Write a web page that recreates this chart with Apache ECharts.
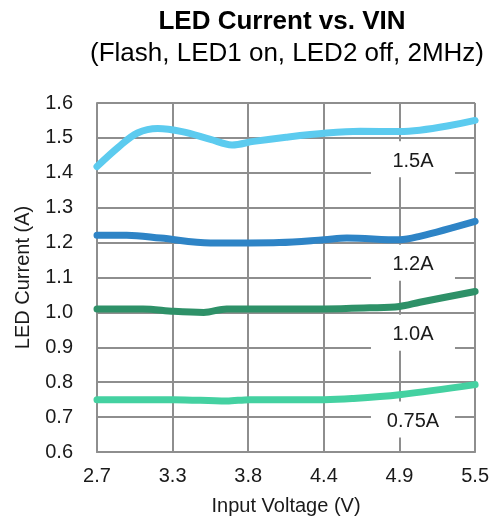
<!DOCTYPE html>
<html>
<head>
<meta charset="utf-8">
<script src="https://cdn.jsdelivr.net/npm/echarts@6/dist/echarts.min.js"></script>
<style>
  html, body { margin: 0; padding: 0; background: #fff; }
  #chart { width: 492px; height: 524px; }
</style>
</head>
<body>
<div id="chart"></div>
<script>
// x axis: input voltage, 6 evenly spaced ticks from 2.7 to 5.5
const VMIN = 2.7;
const VMAX = 5.5;
const tickLabels = ['2.7', '3.3', '3.8', '4.4', '4.9', '5.5'];

// 1.5A
const vin15 = [2.7, 2.86, 3.0, 3.15, 3.33, 3.54, 3.70, 3.86, 4.1, 4.4, 4.65, 4.94, 5.5];
const cur15 = [1.418, 1.474, 1.514, 1.527, 1.518, 1.496, 1.48, 1.49, 1.502, 1.514, 1.519, 1.518, 1.55];
// 1.2A
const vin12 = [2.7, 2.92, 3.17, 3.54, 3.83, 4.05, 4.38, 4.55, 4.94, 5.09, 5.5];
const cur12 = [1.221, 1.221, 1.213, 1.199, 1.199, 1.2, 1.208, 1.213, 1.208, 1.218, 1.261];
// 1.0A
const vin10 = [2.7, 3.04, 3.27, 3.49, 3.66, 3.83, 4.38, 4.72, 4.94, 5.09, 5.5];
const cur10 = [1.01, 1.01, 1.003, 1.0, 1.01, 1.01, 1.01, 1.013, 1.017, 1.029, 1.06];
// 0.75A
const vin075 = [2.7, 3.27, 3.66, 3.83, 4.38, 4.59, 4.94, 5.5];
const cur075 = [0.75, 0.75, 0.746, 0.75, 0.75, 0.753, 0.764, 0.793];

const seriesNames = ['1.5A', '1.2A', '1.0A', '0.75A'];
const colorList = ['#5ccbef', '#2e84c6', '#2e9168', '#44d1a1'];
// where the name tags sit (volts, amps)
const tagPos = [[5.04, 1.439], [5.04, 1.142], [5.04, 0.942], [5.04, 0.693]];

const step = (VMAX - VMIN) / 5;

function makeSeries(idx, vin, cur) {
  return {
    name: seriesNames[idx],
    type: 'line',
    smooth: 0.35,
    symbol: 'none',
    lineStyle: { width: 7, color: colorList[idx], cap: 'round' },
    data: vin.map((v, i) => [v - VMIN, cur[i]]),
    markPoint: {
      symbol: 'rect',
      symbolSize: [84, 36],
      itemStyle: { color: '#ffffff' },
      label: {
        show: true,
        position: 'inside',
        color: '#1a1a1a',
        fontSize: 20,
        fontFamily: 'Liberation Sans',
        offset: [0, 2],
        formatter: seriesNames[idx]
      },
      data: [{ coord: [tagPos[idx][0] - VMIN, tagPos[idx][1]] }]
    }
  };
}

const chart = echarts.init(document.getElementById('chart'));
chart.setOption({
  animation: false,
  textStyle: { fontFamily: 'Liberation Sans' },
  title: [
    {
      text: 'LED Current vs. VIN',
      left: 277, textAlign: 'center', top: 4,
      textStyle: { fontSize: 26, fontWeight: 'bold', color: '#000', fontFamily: 'Liberation Sans' }
    },
    {
      text: '(Flash, LED1 on, LED2 off, 2MHz)',
      left: 282, textAlign: 'center', top: 36,
      textStyle: { fontSize: 26, fontWeight: 'normal', color: '#000', fontFamily: 'Liberation Sans' }
    }
  ],
  grid: { left: 97, right: 16, top: 103, bottom: 72 },
  xAxis: {
    type: 'value',
    min: 0,
    max: VMAX - VMIN,
    interval: step,
    name: 'Input Voltage (V)',
    nameLocation: 'middle',
    nameGap: 44,
    nameTextStyle: { fontSize: 20, color: '#1a1a1a' },
    axisLine: { lineStyle: { color: '#8e8e8e', width: 2 } },
    axisTick: { show: false },
    axisLabel: {
      fontSize: 20, color: '#1a1a1a', margin: 14,
      formatter: v => tickLabels[Math.round(v / step)]
    },
    splitLine: { show: true, lineStyle: { color: '#8e8e8e', width: 2 } }
  },
  yAxis: {
    type: 'value',
    min: 0.6,
    max: 1.6,
    interval: 0.1,
    name: 'LED Current (A)',
    nameLocation: 'middle',
    nameGap: 64,
    nameTextStyle: { fontSize: 20, color: '#1a1a1a' },
    axisLine: { show: true, lineStyle: { color: '#8e8e8e', width: 2 } },
    axisTick: { show: false },
    axisLabel: {
      fontSize: 20, color: '#1a1a1a', margin: 24,
      formatter: v => v.toFixed(1)
    },
    splitLine: { show: true, lineStyle: { color: '#8e8e8e', width: 2 } }
  },
  series: [
    makeSeries(0, vin15, cur15),
    makeSeries(1, vin12, cur12),
    makeSeries(2, vin10, cur10),
    makeSeries(3, vin075, cur075)
  ]
});
</script>
</body>
</html>
